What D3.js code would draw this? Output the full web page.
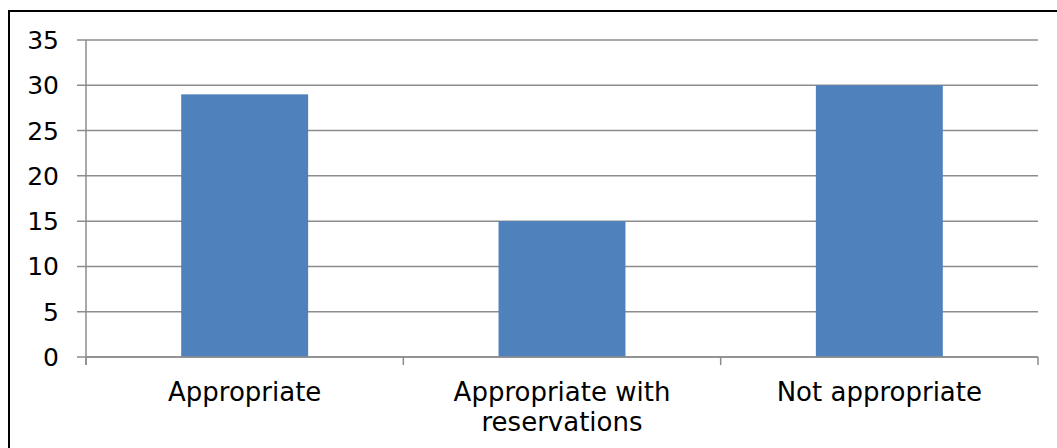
<!DOCTYPE html>
<html>
<head>
<meta charset="utf-8">
<script src="https://cdn.jsdelivr.net/npm/d3@7"></script>
<style>
  body { margin: 0; background: #fff; }
  svg { display: block; font-family: "DejaVu Sans", Verdana, sans-serif; }
</style>
</head>
<body>
<svg id="chart" width="1057" height="448"></svg>
<script>
  var categories = ["Appropriate", "Appropriate with reservations", "Not appropriate"];
  var values = [29, 15, 30];
  var yTicks = [0, 5, 10, 15, 20, 25, 30, 35];

  (function() {
  var svg = d3.select("#chart");

  // outer frame of the chart, runs off the right and bottom edge
  svg.append("rect")
    .attr("x", 9).attr("y", 11)
    .attr("width", 1070).attr("height", 460)
    .attr("fill", "#fff")
    .attr("stroke", "#000")
    .attr("stroke-width", 2);

  var plotLeft = 86, plotRight = 1038, plotTop = 40, plotBottom = 357;

  var x = d3.scaleBand()
    .domain(categories)
    .range([plotLeft, plotRight])
    .paddingInner(0.6)
    .paddingOuter(0.3);

  var y = d3.scaleLinear()
    .domain([0, 35])
    .range([plotBottom, plotTop]);

  // horizontal gridlines + left tick marks
  svg.append("g")
    .selectAll("line")
    .data(yTicks)
    .enter().append("line")
    .attr("x1", plotLeft - 9)
    .attr("x2", plotRight)
    .attr("y1", function(d) { return y(d); })
    .attr("y2", function(d) { return y(d); })
    .attr("stroke", "#8c8c8c")
    .attr("stroke-width", 1.5);

  // tick labels
  svg.append("g")
    .selectAll("text")
    .data(yTicks)
    .enter().append("text")
    .attr("x", 59)
    .attr("y", function(d) { return y(d); })
    .attr("dy", "0.36em")
    .attr("text-anchor", "end")
    .attr("font-size", "25px")
    .attr("fill", "#000")
    .text(function(d) { return d; });

  // bars
  svg.append("g")
    .selectAll("rect")
    .data(values)
    .enter().append("rect")
    .attr("x", function(d, i) { return x(categories[i]); })
    .attr("y", function(d) { return y(d); })
    .attr("width", x.bandwidth())
    .attr("height", function(d) { return y(0) - y(d); })
    .attr("fill", "#4f81bd");

  // y axis line
  svg.append("line")
    .attr("x1", plotLeft).attr("x2", plotLeft)
    .attr("y1", plotTop).attr("y2", plotBottom + 8)
    .attr("stroke", "#8c8c8c")
    .attr("stroke-width", 1.5);

  // x axis line and category ticks
  svg.append("line")
    .attr("x1", plotLeft).attr("x2", plotRight)
    .attr("y1", plotBottom).attr("y2", plotBottom)
    .attr("stroke", "#8c8c8c")
    .attr("stroke-width", 1.5);

  var step = x.step();
  var tickXs = d3.range(categories.length + 1).map(function(i) { return plotLeft + i * step; });
  svg.append("g")
    .selectAll("line")
    .data(tickXs)
    .enter().append("line")
    .attr("x1", function(d) { return d; })
    .attr("x2", function(d) { return d; })
    .attr("y1", plotBottom)
    .attr("y2", plotBottom + 8)
    .attr("stroke", "#8c8c8c")
    .attr("stroke-width", 1.5);

  // category labels, wrapped like excel does
  var labels = svg.append("g")
    .selectAll("text")
    .data(categories)
    .enter().append("text")
    .attr("x", function(d) { return x(d) + x.bandwidth() / 2; })
    .attr("y", 401)
    .attr("text-anchor", "middle")
    .attr("font-size", "26px")
    .attr("fill", "#000");

  labels.each(function(d) {
    var text = d3.select(this);
    var words = d.split(" ");
    var line = [];
    var cx = text.attr("x");
    var tspan = text.append("tspan").attr("x", cx).attr("dy", 0);
    for (var i = 0; i < words.length; i++) {
      line.push(words[i]);
      tspan.text(line.join(" "));
      if (tspan.node().getComputedTextLength() > 280 && line.length > 1) {
        line.pop();
        tspan.text(line.join(" "));
        line = [words[i]];
        tspan = text.append("tspan").attr("x", cx).attr("dy", 30).text(words[i]);
      }
    }
  });
  })();
</script>
</body>
</html>
